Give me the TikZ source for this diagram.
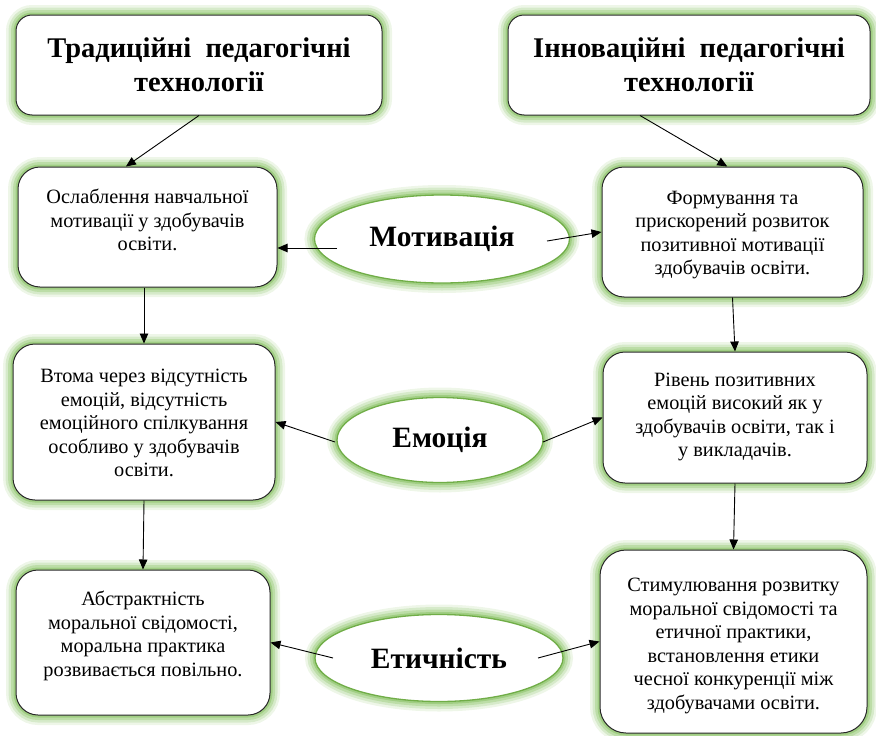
\documentclass[tikz,border=0pt]{standalone}
\usepackage{fontspec}
\setmainfont{Liberation Serif}
\usetikzlibrary{arrows.meta,shapes.geometric,calc}

\definecolor{glowgreen}{RGB}{132,192,94}
\definecolor{rimgreen}{RGB}{112,173,71}
\definecolor{boxline}{RGB}{40,40,40}

\tikzset{
  glow/.style={
    preaction={draw=glowgreen, line width=20pt, draw opacity=0.14},
    preaction={draw=glowgreen, line width=15pt, draw opacity=0.22},
    preaction={draw=glowgreen, line width=10pt, draw opacity=0.32},
    preaction={draw=glowgreen, line width=5pt,  draw opacity=0.5}},
  headbox/.style={glow, draw=boxline, line width=1pt, fill=white,
    rounded corners=16pt, inner sep=0pt, align=center,
    font=\fontsize{28.5}{34}\selectfont\bfseries},
  infobox/.style={glow, draw=boxline, line width=1pt, fill=white,
    rounded corners=22pt, inner sep=0pt},
  bodytext/.style={align=center, inner sep=0pt,
    font=\fontsize{20.3}{23.5}\selectfont},
  topic/.style={glow, ellipse, draw=rimgreen, line width=1.3pt, fill=white,
    inner sep=0pt, font=\fontsize{29.5}{34}\selectfont\bfseries},
  arr/.style={-{Triangle[length=10pt,width=8.5pt]}, line width=0.9pt, black}
}

\begin{document}
\begin{tikzpicture}[x=1pt,y=1pt]
  \useasboundingbox (0,0) rectangle (876,-736);

  % column headings
  \node[headbox, minimum width=366pt, minimum height=100pt] (tl) at (199,-65)
    {Традиційні\enspace педагогічні\\технології};
  \node[headbox, minimum width=362pt, minimum height=100pt] (tr) at (689,-65)
    {Інноваційні\enspace педагогічні\\технології};

  % traditional column
  \node[infobox, minimum width=259pt, minimum height=120pt] (l1) at (147.5,-227) {};
  \node[bodytext] (l1t) at (147.5,-220)
    {Ослаблення навчальної\\мотивації у здобувачів\\освіти.};
  \node[infobox, minimum width=262pt, minimum height=156pt] (l2) at (144,-422) {};
  \node[bodytext] (l2t) at (144,-423)
    {Втома через відсутність\\емоцій, відсутність\\емоційного спілкування\\особливо у здобувачів\\освіти.};
  \node[infobox, minimum width=254pt, minimum height=145pt] (l3) at (143,-642.5) {};
  \node[bodytext] (l3t) at (143,-636)
    {Абстрактність\\моральної свідомості,\\моральна практика\\розвивається повільно.};

  % innovative column
  \node[infobox, minimum width=261pt, minimum height=130pt] (r1) at (732.5,-232) {};
  \node[bodytext] (r1t) at (732.5,-235)
    {Формування та\\прискорений розвиток\\позитивної мотивації\\здобувачів освіти.};
  \node[infobox, minimum width=264pt, minimum height=131pt] (r2) at (735,-417.5) {};
  \node[bodytext] (r2t) at (735,-417)
    {Рівень позитивних\\емоцій високий як у\\здобувачів освіти, так і\\у викладачів.};
  \node[infobox, rounded corners=26pt, minimum width=267pt, minimum height=183pt] (r3) at (733.5,-641.5) {};
  \node[bodytext] (r3t) at (733.5,-646)
    {Стимулювання розвитку\\моральної свідомості та\\етичної практики,\\встановлення етики\\чесної конкуренції між\\здобувачами освіти.};

  % topics
  \node[topic, minimum width=255pt, minimum height=88pt] (mot) at (442,-239) {Мотивація};
  \node[topic, minimum width=206pt, minimum height=85pt] (emo) at (440,-440) {Емоція};
  \node[topic, minimum width=248pt, minimum height=87pt] (eth) at (439,-658) {Етичність};

  % headings to first boxes
  \draw[arr] (tl.south) -- ($(l1.north west)!0.417!(l1.north east)$);
  \draw[arr] ($(tr.south west)!0.365!(tr.south east)$) -- ($(r1.north west)!0.48!(r1.north east)$);

  % down the columns
  \draw[arr] (l2.north |- l1.south) -- (l2.north);
  \draw[arr] (l2.south) -- (l3.north);
  \draw[arr] (r1.south) -- (r2.north);
  \draw[arr] (r2.south) -- (r3.north);

  % topics to both sides
  \draw[arr] ($(mot.center)+(-105,-9)$) -- ($(l1.east)+(0,-21)$);
  \draw[arr] ($(mot.center)+(105,-2)$) -- (r1.west);
  \draw[arr] ($(emo.center)+(-105,-2)$) -- (l2.east);
  \draw[arr] ($(emo.center)+(103,-2)$) -- (r2.west);
  \draw[arr] ($(eth.center)+(-106,0)$) -- (l3.east);
  \draw[arr] ($(eth.center)+(99,0)$) -- (r3.west);
\end{tikzpicture}
\end{document}
